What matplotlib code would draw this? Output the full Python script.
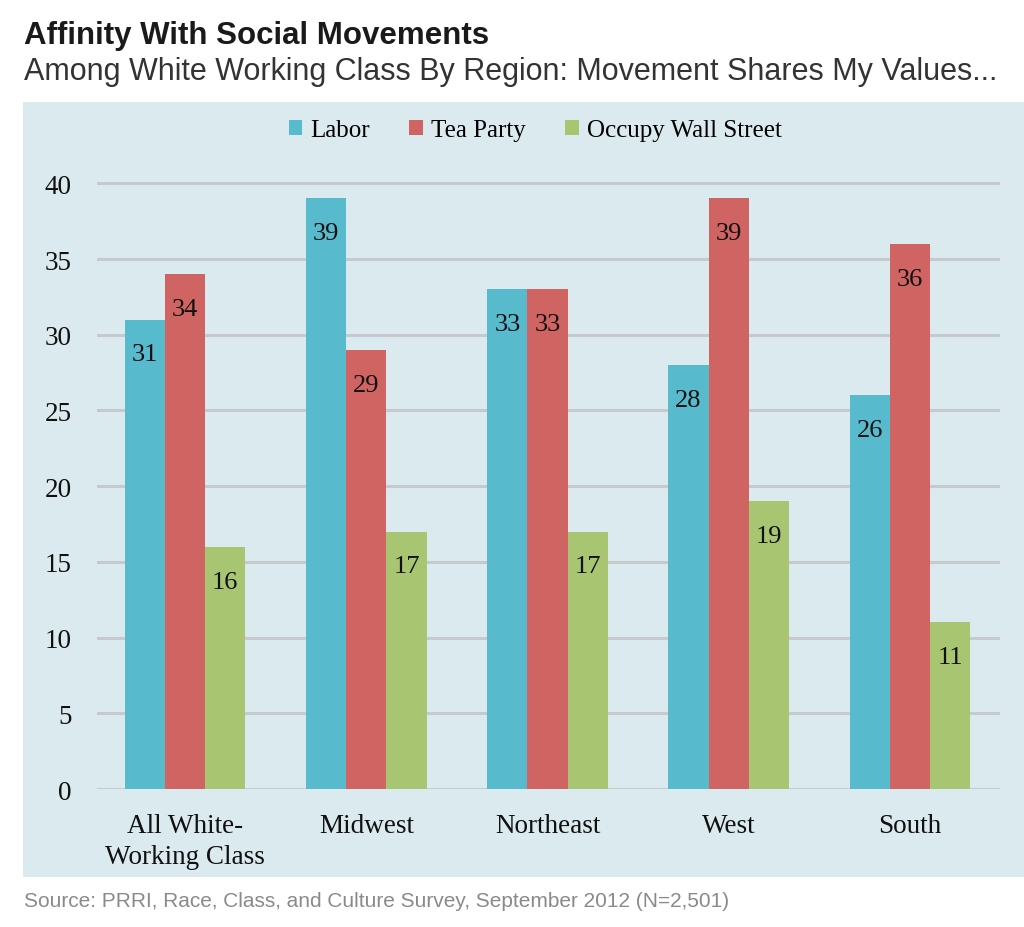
import matplotlib.pyplot as plt
import matplotlib.patches as mpatches
import numpy as np

# Data
regions = ["All White-\nWorking Class", "Midwest", "Northeast", "West", "South"]
series = ["Labor", "Tea Party", "Occupy Wall Street"]
labor = [31, 39, 33, 28, 26]
tea_party = [34, 29, 33, 39, 36]
occupy = [16, 17, 17, 19, 11]
yticks = [0, 5, 10, 15, 20, 25, 30, 35, 40]

colors = ["#57bacd", "#d06462", "#a8c672"]
panel_bg = "#dbeaee"
grid_col = "#c7cacc"
serif = ["Liberation Serif", "DejaVu Serif"]
sans = ["Liberation Sans", "DejaVu Sans"]

fig = plt.figure(figsize=(10.24, 9.28), dpi=100)

# light blue panel behind the plot
panel = mpatches.Rectangle((0.0225, 0.0539), 0.978, 0.835, transform=fig.transFigure,
                           facecolor=panel_bg, edgecolor="none", zorder=-5)
fig.patches.append(panel)

fig.text(0.023, 0.9615, "Affinity With Social Movements", family=sans, fontsize=22.5,
         fontweight="bold", color="#1a1a1a", va="center")
fig.text(0.023, 0.9225, "Among White Working Class By Region: Movement Shares My Values...",
         family=sans, fontsize=22, color="#333333", va="center")
fig.text(0.023, 0.029, "Source: PRRI, Race, Class, and Culture Survey, September 2012 (N=2,501)",
         family=sans, fontsize=15, color="#8a8a8a", va="center")

ax = fig.add_axes([0.0947, 0.1487, 0.882, 0.669])
ax.set_facecolor("none")
for s in ax.spines.values():
    s.set_visible(False)

x = np.arange(len(regions))
w = 0.222
data = [labor, tea_party, occupy]
for i, (vals, c) in enumerate(zip(data, colors)):
    bars = ax.bar(x + (i - 1) * w, vals, width=w, color=c, zorder=3, label=series[i])
    for b, v in zip(bars, vals):
        ax.text(b.get_x() + b.get_width() / 2, v - 2.3, str(v), ha="center", va="center",
                family=serif, fontsize=19, color="#111111", zorder=4)

ax.set_xlim(-0.486, 4.497)
ax.set_ylim(0, 41)
ax.set_yticks(yticks)
ax.yaxis.grid(True, color=grid_col, linewidth=2.2, zorder=1)
ax.set_axisbelow(True)
ax.tick_params(axis="both", length=0, labelsize=19.5, colors="#111111")
ax.tick_params(axis="y", pad=18)
ax.tick_params(axis="x", pad=17)
ax.set_xticks(x)
ax.set_xticklabels(regions, linespacing=1.35)
for lab in ax.get_xticklabels() + ax.get_yticklabels():
    lab.set_family(serif)

leg = ax.legend(loc="center", bbox_to_anchor=(0.485, 1.061), ncol=3, frameon=False,
                prop={"family": serif, "size": 18}, handlelength=0.55, handleheight=0.55,
                handletextpad=0.3, columnspacing=1.6)

fig.savefig("out.png", dpi=100)
